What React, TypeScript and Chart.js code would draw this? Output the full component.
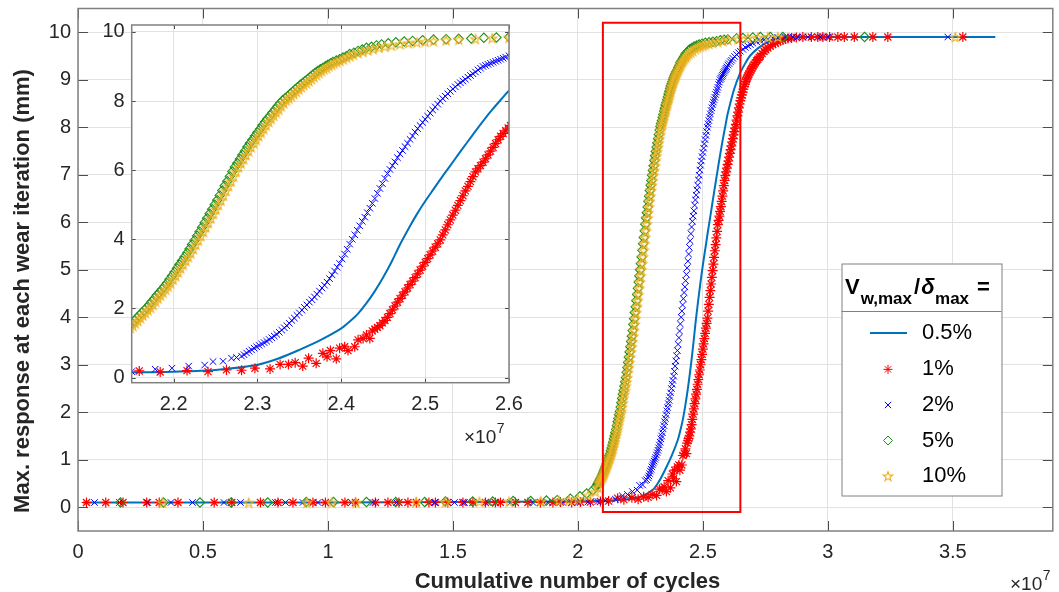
import React, { useEffect, useRef } from 'react';
import { Chart, registerables } from 'chart.js';

Chart.register(...registerables);

const FONT = "'Liberation Sans', Arial, Helvetica, sans-serif";
const TEXT = '#262626';
const AXIS = '#808080';
const TICKC = '#4d4d4d';
const GRID = '#e2e2e2';

const C_LINE = '#0072BD';
const C_RED = '#FF0000';
const C_BLUE = '#0000FF';
const C_GREEN = '#1E8F1E';
const C_YELLOW = '#EDB120';

// ---- axes (x in units of 1e7 cycles) ----
const MAIN_X_RANGE = [0, 3.9];
const MAIN_Y_RANGE = [-0.5, 10.5];
const MAIN_X_TICKS = [0, 0.5, 1, 1.5, 2, 2.5, 3, 3.5];
const MAIN_Y_TICKS = [0, 1, 2, 3, 4, 5, 6, 7, 8, 9, 10];
const INSET_X_RANGE = [2.15, 2.6];
const INSET_Y_RANGE = [-0.15, 10.2];
const INSET_X_TICKS = [2.2, 2.3, 2.4, 2.5, 2.6];
const INSET_Y_TICKS = [0, 2, 4, 6, 8, 10];
const ZOOM_BOX_X = [2.1, 2.65];
const ZOOM_BOX_Y = [-0.1, 10.2];

const X_TITLE = 'Cumulative number of cycles';
const Y_TITLE = 'Max. response at each wear iteration (mm)';
const LEGEND_LABELS = ['0.5%', '1%', '2%', '5%', '10%'];

// ---- series: [cumulative cycles (x1e7), max response (mm)] ----
const S_05: [number, number][] = [
  [0.02, 0.1], [0.5, 0.1], [1.0, 0.1], [1.5, 0.11], [1.9, 0.12], [2.05, 0.13], [2.15, 0.15],
  [2.2, 0.17], [2.25, 0.22], [2.3, 0.37], [2.325, 0.55], [2.35, 0.8], [2.375, 1.08], [2.4, 1.42],
  [2.41, 1.62], [2.42, 1.85], [2.43, 2.15], [2.44, 2.5], [2.45, 2.9], [2.46, 3.35], [2.47, 3.85],
  [2.48, 4.3], [2.49, 4.72], [2.5, 5.1], [2.51, 5.45], [2.52, 5.8], [2.53, 6.13], [2.54, 6.47],
  [2.55, 6.8], [2.56, 7.13], [2.57, 7.45], [2.58, 7.75], [2.59, 8.03], [2.6, 8.3], [2.625, 8.8],
  [2.649, 9.14], [2.67, 9.35], [2.688, 9.5], [2.72, 9.66], [2.755, 9.78], [2.79, 9.85], [2.83, 9.88],
  [2.88, 9.9], [3.67, 9.9],
];

const S_1: [number, number][] = [
  [0.034, 0.1], [0.111, 0.1], [0.18, 0.1], [0.275, 0.1], [0.325, 0.1], [0.40, 0.1], [0.545, 0.1],
  [0.615, 0.1], [0.73, 0.1], [0.80, 0.1], [0.86, 0.1], [0.94, 0.1], [0.99, 0.1], [1.068, 0.1],
  [1.11, 0.1], [1.19, 0.1], [1.24, 0.1], [1.284, 0.1], [1.32, 0.1], [1.354, 0.1], [1.404, 0.1],
  [1.43, 0.1], [1.479, 0.1], [1.54, 0.1], [1.58, 0.1], [1.63, 0.1], [1.67, 0.1], [1.69, 0.1],
  [1.75, 0.1], [1.80, 0.1], [1.85, 0.1], [1.90, 0.1], [1.93, 0.11], [1.975, 0.1], [2.01, 0.11],
  [2.05, 0.11], [2.09, 0.12], [2.123, 0.13], [2.159, 0.19], [2.184, 0.16], [2.216, 0.2],
  [2.241, 0.17], [2.263, 0.22], [2.281, 0.21], [2.297, 0.27], [2.315, 0.25], [2.327, 0.38],
  [2.337, 0.38], [2.345, 0.43], [2.354, 0.33], [2.361, 0.56], [2.370, 0.41], [2.378, 0.7],
  [2.383, 0.6], [2.387, 0.78], [2.394, 0.54], [2.398, 0.85], [2.404, 0.89], [2.408, 0.78],
  [2.416, 0.89], [2.420, 1.09], [2.426, 1.13], [2.430, 1.23], [2.434, 1.13], [2.437, 1.35],
  [2.440, 1.40], [2.443, 1.45], [2.446, 1.50], [2.449, 1.58], [2.452, 1.65], [2.455, 1.74],
  [2.458, 1.85], [2.461, 1.96], [2.464, 2.07], [2.467, 2.18], [2.470, 2.28], [2.473, 2.38],
  [2.476, 2.48], [2.479, 2.59], [2.482, 2.69], [2.485, 2.79], [2.488, 2.89], [2.491, 3.00],
  [2.494, 3.11], [2.497, 3.22], [2.500, 3.33], [2.503, 3.44], [2.506, 3.55], [2.509, 3.66],
  [2.512, 3.77], [2.515, 3.87], [2.518, 3.98], [2.521, 4.13], [2.524, 4.27], [2.527, 4.42],
  [2.530, 4.56], [2.533, 4.70], [2.536, 4.84], [2.539, 4.98], [2.542, 5.12], [2.545, 5.26],
  [2.548, 5.40], [2.551, 5.53], [2.554, 5.67], [2.557, 5.81], [2.560, 5.95], [2.563, 6.04],
  [2.566, 6.13], [2.569, 6.23], [2.572, 6.33], [2.575, 6.44], [2.578, 6.55], [2.581, 6.66],
  [2.584, 6.77], [2.587, 6.88], [2.590, 6.98], [2.593, 7.06], [2.596, 7.14], [2.599, 7.22],
  [2.602, 7.29], [2.605, 7.37], [2.608, 7.45], [2.611, 7.53], [2.614, 7.61], [2.617, 7.69],
  [2.620, 7.76], [2.623, 7.84], [2.626, 7.91], [2.629, 7.98], [2.632, 8.06], [2.635, 8.15],
  [2.638, 8.24], [2.641, 8.32], [2.644, 8.41], [2.647, 8.49], [2.650, 8.56], [2.653, 8.62],
  [2.656, 8.68], [2.659, 8.74], [2.662, 8.80], [2.665, 8.86], [2.668, 8.91], [2.671, 8.96],
  [2.674, 9.00], [2.677, 9.04], [2.680, 9.08], [2.684, 9.12], [2.688, 9.16], [2.692, 9.20],
  [2.696, 9.24], [2.700, 9.28], [2.705, 9.32], [2.710, 9.36], [2.715, 9.40], [2.720, 9.43],
  [2.725, 9.47], [2.730, 9.50], [2.737, 9.55], [2.745, 9.60], [2.752, 9.63], [2.760, 9.67],
  [2.770, 9.71], [2.780, 9.74], [2.790, 9.77], [2.800, 9.80], [2.810, 9.82], [2.820, 9.84],
  [2.830, 9.86], [2.840, 9.87], [2.855, 9.88], [2.874, 9.89], [2.900, 9.9], [2.934, 9.9],
  [2.960, 9.9], [2.980, 9.9], [3.007, 9.9], [3.040, 9.9], [3.066, 9.9], [3.106, 9.9],
  [3.180, 9.9], [3.240, 9.9], [3.540, 9.9],
];

const S_2: [number, number][] = [
  [0.066, 0.1], [0.166, 0.1], [0.279, 0.1], [0.372, 0.1], [0.458, 0.1], [0.584, 0.1], [0.65, 0.1],
  [0.79, 0.1], [0.83, 0.1], [0.90, 0.1], [0.96, 0.1], [1.095, 0.1], [1.18, 0.1], [1.274, 0.1],
  [1.426, 0.1], [1.506, 0.1], [1.546, 0.1], [1.64, 0.1], [1.73, 0.1], [1.82, 0.1], [1.88, 0.1],
  [1.94, 0.1], [2.0, 0.1], [2.04, 0.11], [2.08, 0.12], [2.11, 0.14], [2.15, 0.17], [2.178, 0.24],
  [2.198, 0.27], [2.218, 0.33], [2.237, 0.36], [2.247, 0.46], [2.259, 0.47], [2.269, 0.56],
  [2.275, 0.58], [2.281, 0.62], [2.284, 0.66], [2.287, 0.71], [2.290, 0.76], [2.293, 0.80],
  [2.296, 0.85], [2.299, 0.89], [2.302, 0.93], [2.305, 0.97], [2.308, 1.01], [2.311, 1.05],
  [2.314, 1.10], [2.317, 1.15], [2.320, 1.20], [2.323, 1.25], [2.326, 1.31], [2.329, 1.37],
  [2.332, 1.44], [2.335, 1.50], [2.338, 1.57], [2.341, 1.65], [2.344, 1.72], [2.347, 1.80],
  [2.350, 1.87], [2.353, 1.95], [2.356, 2.03], [2.359, 2.10], [2.362, 2.18], [2.365, 2.25],
  [2.368, 2.33], [2.371, 2.41], [2.374, 2.50], [2.377, 2.59], [2.380, 2.67], [2.383, 2.76],
  [2.386, 2.86], [2.389, 2.97], [2.392, 3.08], [2.395, 3.19], [2.398, 3.30], [2.401, 3.43],
  [2.404, 3.57], [2.407, 3.71], [2.410, 3.86], [2.413, 4.00], [2.416, 4.13], [2.419, 4.26],
  [2.422, 4.39], [2.425, 4.52], [2.428, 4.64], [2.431, 4.77], [2.434, 4.90], [2.437, 5.04],
  [2.440, 5.18], [2.443, 5.33], [2.446, 5.47], [2.449, 5.61], [2.452, 5.76], [2.455, 5.90],
  [2.458, 6.02], [2.461, 6.13], [2.464, 6.24], [2.467, 6.36], [2.470, 6.47], [2.473, 6.57],
  [2.476, 6.68], [2.479, 6.78], [2.482, 6.89], [2.485, 6.99], [2.488, 7.10], [2.491, 7.20],
  [2.494, 7.29], [2.497, 7.38], [2.500, 7.47], [2.503, 7.56], [2.506, 7.65], [2.509, 7.74],
  [2.512, 7.83], [2.515, 7.91], [2.518, 8.00], [2.521, 8.07], [2.524, 8.14], [2.527, 8.21],
  [2.530, 8.28], [2.533, 8.35], [2.536, 8.41], [2.539, 8.48], [2.542, 8.53], [2.545, 8.58],
  [2.548, 8.63], [2.551, 8.69], [2.554, 8.74], [2.557, 8.79], [2.560, 8.84], [2.563, 8.90],
  [2.566, 8.95], [2.569, 9.00], [2.572, 9.03], [2.575, 9.06], [2.578, 9.09], [2.581, 9.12],
  [2.584, 9.15], [2.587, 9.18], [2.590, 9.21], [2.593, 9.24], [2.596, 9.27], [2.600, 9.31],
  [2.605, 9.34], [2.610, 9.38], [2.615, 9.41], [2.620, 9.45], [2.627, 9.49], [2.635, 9.53],
  [2.643, 9.57], [2.650, 9.60], [2.660, 9.64], [2.670, 9.68], [2.680, 9.71], [2.690, 9.74],
  [2.700, 9.77], [2.715, 9.80], [2.730, 9.82], [2.745, 9.84], [2.760, 9.86], [2.780, 9.88],
  [2.800, 9.89], [2.830, 9.9], [2.860, 9.9], [2.880, 9.9], [2.920, 9.9], [2.970, 9.9],
  [3.000, 9.9], [3.480, 9.9],
];

const S_5: [number, number][] = [
  [0.17, 0.1], [0.342, 0.1], [0.488, 0.1], [0.613, 0.1], [0.759, 0.1], [0.913, 0.11], [1.022, 0.11],
  [1.154, 0.11], [1.271, 0.11], [1.387, 0.11], [1.47, 0.12], [1.579, 0.12], [1.659, 0.12],
  [1.741, 0.13], [1.811, 0.13], [1.874, 0.14], [1.917, 0.15], [1.97, 0.18], [2.008, 0.23],
  [2.035, 0.29], [2.06, 0.36], [2.072, 0.43], [2.078, 0.48],
  [2.081, 0.51], [2.084, 0.54], [2.087, 0.57], [2.090, 0.60], [2.093, 0.63], [2.096, 0.66],
  [2.099, 0.70], [2.102, 0.74], [2.105, 0.78], [2.108, 0.82], [2.111, 0.86], [2.114, 0.91],
  [2.117, 0.95], [2.120, 1.00], [2.123, 1.04], [2.126, 1.09], [2.129, 1.13], [2.132, 1.19],
  [2.135, 1.25], [2.138, 1.31], [2.141, 1.37], [2.144, 1.44], [2.147, 1.50], [2.150, 1.57],
  [2.153, 1.64], [2.156, 1.72], [2.159, 1.80], [2.162, 1.87], [2.165, 1.95], [2.168, 2.02],
  [2.171, 2.11], [2.174, 2.20], [2.177, 2.29], [2.180, 2.38], [2.183, 2.46], [2.186, 2.55],
  [2.189, 2.64], [2.192, 2.73], [2.195, 2.84], [2.198, 2.94], [2.201, 3.05], [2.204, 3.16],
  [2.207, 3.27], [2.210, 3.38], [2.213, 3.49], [2.216, 3.60], [2.219, 3.72], [2.222, 3.85],
  [2.225, 3.97], [2.228, 4.10], [2.231, 4.22], [2.234, 4.35], [2.237, 4.48], [2.240, 4.61],
  [2.243, 4.74], [2.246, 4.87], [2.249, 5.00], [2.252, 5.13], [2.255, 5.27], [2.258, 5.41],
  [2.261, 5.55], [2.264, 5.68], [2.267, 5.82], [2.270, 5.96], [2.273, 6.09], [2.276, 6.20],
  [2.279, 6.32], [2.282, 6.44], [2.285, 6.55], [2.288, 6.67], [2.291, 6.78], [2.294, 6.88],
  [2.297, 6.99], [2.300, 7.09], [2.303, 7.19], [2.306, 7.30], [2.309, 7.40], [2.312, 7.49],
  [2.315, 7.58], [2.318, 7.67], [2.321, 7.76], [2.324, 7.85], [2.327, 7.94], [2.330, 8.02],
  [2.333, 8.08], [2.336, 8.14], [2.339, 8.21], [2.342, 8.27], [2.345, 8.34], [2.348, 8.40],
  [2.351, 8.47], [2.354, 8.52], [2.357, 8.58], [2.360, 8.64], [2.363, 8.70], [2.366, 8.76],
  [2.369, 8.82], [2.372, 8.87], [2.375, 8.92], [2.378, 8.96], [2.381, 9.01], [2.384, 9.05],
  [2.387, 9.09], [2.390, 9.13], [2.394, 9.17], [2.398, 9.21], [2.402, 9.26], [2.406, 9.30],
  [2.410, 9.36], [2.415, 9.40], [2.420, 9.45], [2.425, 9.49], [2.430, 9.54], [2.436, 9.57],
  [2.442, 9.61], [2.448, 9.64], [2.456, 9.67], [2.465, 9.70], [2.475, 9.72], [2.485, 9.74],
  [2.497, 9.76], [2.510, 9.78], [2.525, 9.79], [2.540, 9.80], [2.555, 9.81], [2.570, 9.83],
  [2.585, 9.84], [2.600, 9.85], [2.635, 9.87], [2.660, 9.88], [2.700, 9.89], [2.730, 9.9],
  [2.770, 9.9], [2.820, 9.9], [3.147, 9.9],
];

const S_10: [number, number][] = [
  [0.338, 0.1], [0.683, 0.1], [0.916, 0.1], [1.015, 0.1], [1.112, 0.1], [1.353, 0.11], [1.47, 0.11],
  [1.606, 0.12], [1.725, 0.12], [1.851, 0.13], [1.924, 0.14], [1.964, 0.15], [2.0, 0.18],
  [2.04, 0.25], [2.07, 0.33], [2.08, 0.42],
  [2.0855, 0.51], [2.0885, 0.54], [2.0915, 0.57], [2.0945, 0.60], [2.0975, 0.63], [2.1005, 0.66],
  [2.1035, 0.70], [2.1065, 0.74], [2.1095, 0.78], [2.1125, 0.82], [2.1155, 0.86], [2.1185, 0.91],
  [2.1215, 0.95], [2.1245, 1.00], [2.1275, 1.04], [2.1305, 1.09], [2.1335, 1.13], [2.1365, 1.19],
  [2.1395, 1.25], [2.1425, 1.31], [2.1455, 1.37], [2.1485, 1.44], [2.1515, 1.50], [2.1545, 1.57],
  [2.1575, 1.64], [2.1605, 1.72], [2.1635, 1.80], [2.1665, 1.87], [2.1695, 1.95], [2.1725, 2.02],
  [2.1755, 2.11], [2.1785, 2.20], [2.1815, 2.29], [2.1845, 2.38], [2.1875, 2.46], [2.1905, 2.55],
  [2.1935, 2.64], [2.1965, 2.73], [2.1995, 2.84], [2.2025, 2.94], [2.2055, 3.05], [2.2085, 3.16],
  [2.2115, 3.27], [2.2145, 3.38], [2.2175, 3.49], [2.2205, 3.60], [2.2235, 3.72], [2.2265, 3.85],
  [2.2295, 3.97], [2.2325, 4.10], [2.2355, 4.22], [2.2385, 4.35], [2.2415, 4.48], [2.2445, 4.61],
  [2.2475, 4.74], [2.2505, 4.87], [2.2535, 5.00], [2.2565, 5.13], [2.2595, 5.27], [2.2625, 5.41],
  [2.2655, 5.55], [2.2685, 5.68], [2.2715, 5.82], [2.2745, 5.96], [2.2775, 6.09], [2.2805, 6.20],
  [2.2835, 6.32], [2.2865, 6.44], [2.2895, 6.55], [2.2925, 6.67], [2.2955, 6.78], [2.2985, 6.88],
  [2.3015, 6.99], [2.3045, 7.09], [2.3075, 7.19], [2.3105, 7.30], [2.3135, 7.40], [2.3165, 7.49],
  [2.3195, 7.58], [2.3225, 7.67], [2.3255, 7.76], [2.3285, 7.85], [2.3315, 7.94], [2.3345, 8.02],
  [2.3375, 8.08], [2.3405, 8.14], [2.3435, 8.21], [2.3465, 8.27], [2.3495, 8.34], [2.3525, 8.40],
  [2.3555, 8.47], [2.3585, 8.52], [2.3615, 8.58], [2.3645, 8.64], [2.3675, 8.70], [2.3705, 8.76],
  [2.3735, 8.82], [2.3765, 8.87], [2.3795, 8.92], [2.3825, 8.96], [2.3855, 9.01], [2.3885, 9.05],
  [2.3915, 9.09], [2.3945, 9.13], [2.3985, 9.17], [2.4025, 9.21], [2.4065, 9.26], [2.4105, 9.30],
  [2.4145, 9.35], [2.420, 9.39], [2.426, 9.43], [2.432, 9.47], [2.438, 9.51], [2.445, 9.55],
  [2.452, 9.58], [2.460, 9.61], [2.470, 9.65], [2.480, 9.68], [2.490, 9.70], [2.500, 9.72],
  [2.510, 9.74], [2.525, 9.76], [2.540, 9.78], [2.560, 9.80], [2.580, 9.82], [2.600, 9.84],
  [2.640, 9.86], [2.680, 9.88], [2.720, 9.89], [2.760, 9.9], [2.800, 9.9], [3.510, 9.9],
];

// ---- layout (pixels) ----
const W = 1059;
const H = 592;
const INSET_W = 530;
const INSET_H = 460;
const LEG = { left: 841.5, top: 263.5, width: 160, height: 232, divider: 311.5, markX: 888, lineX0: 870, lineX1: 907, textX: 922, rows: [333, 369.4, 405, 440.5, 476] };

const toPts = (a: [number, number][]) => a.map(([x, y]) => ({ x, y }));

function makePentagram(color: string, r: number) {
  const c = document.createElement('canvas');
  const s = Math.ceil(r * 2 + 4);
  c.width = s;
  c.height = s;
  const ctx = c.getContext('2d')!;
  ctx.strokeStyle = color;
  ctx.lineWidth = 1.1;
  ctx.beginPath();
  for (let i = 0; i < 10; i++) {
    const ang = -Math.PI / 2 + (i * Math.PI) / 5;
    const rr = i % 2 === 0 ? r : r * 0.4;
    const x = s / 2 + rr * Math.cos(ang);
    const y = s / 2 + 0.6 + rr * Math.sin(ang);
    if (i === 0) ctx.moveTo(x, y);
    else ctx.lineTo(x, y);
  }
  ctx.closePath();
  ctx.stroke();
  return c;
}

function datasets(pent: HTMLCanvasElement) {
  const none = 'rgba(0,0,0,0)';
  return [
    { label: LEGEND_LABELS[0], data: toPts(S_05), showLine: true, borderColor: C_LINE, borderWidth: 2, pointRadius: 0, tension: 0.3, order: 5 },
    { label: LEGEND_LABELS[1], data: toPts(S_1), pointStyle: 'star', pointRadius: 5, pointBorderColor: C_RED, pointBackgroundColor: none, pointBorderWidth: 1.2, order: 4 },
    { label: LEGEND_LABELS[2], data: toPts(S_2), pointStyle: 'crossRot', pointRadius: 4.6, pointBorderColor: C_BLUE, pointBackgroundColor: none, pointBorderWidth: 1, order: 3 },
    { label: LEGEND_LABELS[3], data: toPts(S_5), pointStyle: 'rectRot', pointRadius: 4.7, pointBorderColor: C_GREEN, pointBackgroundColor: none, pointBorderWidth: 1.1, order: 2 },
    { label: LEGEND_LABELS[4], data: toPts(S_10), pointStyle: pent, pointRadius: 5, pointBorderColor: C_YELLOW, pointBackgroundColor: none, pointBorderWidth: 1, order: 1 },
  ];
}

function axis(range: number[], ticks: number[], size: number, pad: number, horizontal: boolean) {
  return {
    type: 'linear',
    min: range[0],
    max: range[1],
    afterBuildTicks: (s: any) => {
      s.ticks = ticks.map((v) => ({ value: v }));
    },
    afterFit: (s: any) => {
      if (horizontal) s.height = size;
      else s.width = size;
      s.paddingTop = 0;
      s.paddingBottom = 0;
      s.paddingLeft = 0;
      s.paddingRight = 0;
    },
    grid: { color: GRID, lineWidth: 1, drawTicks: false },
    border: { display: false },
    ticks: {
      color: TEXT,
      font: { family: FONT, size: 20 },
      padding: pad,
      maxRotation: 0,
      minRotation: 0,
      autoSkip: false,
      callback: (v: any) => String(v),
    },
  };
}

function drawBox(chart: any, len: number) {
  const { ctx, chartArea } = chart;
  const { left, right, top, bottom } = chartArea;
  const xs = chart.scales.x;
  const ys = chart.scales.y;
  ctx.save();
  ctx.strokeStyle = TICKC;
  ctx.lineWidth = 1;
  ctx.beginPath();
  for (const t of xs.ticks) {
    const p = Math.round(xs.getPixelForValue(t.value)) + 0.5;
    ctx.moveTo(p, bottom);
    ctx.lineTo(p, bottom - len);
    ctx.moveTo(p, top);
    ctx.lineTo(p, top + len);
  }
  for (const t of ys.ticks) {
    const p = Math.round(ys.getPixelForValue(t.value)) + 0.5;
    ctx.moveTo(left, p);
    ctx.lineTo(left + len, p);
    ctx.moveTo(right, p);
    ctx.lineTo(right - len, p);
  }
  ctx.stroke();
  ctx.strokeStyle = AXIS;
  ctx.lineWidth = 1.5;
  ctx.strokeRect(left, top, right - left, bottom - top);
  ctx.restore();
}

function drawExponent(ctx: CanvasRenderingContext2D, x: number, yMid: number) {
  ctx.save();
  ctx.fillStyle = TEXT;
  ctx.textAlign = 'left';
  ctx.textBaseline = 'middle';
  ctx.font = `19px ${FONT}`;
  ctx.fillText('\u00d710', x, yMid);
  const w = ctx.measureText('\u00d710').width;
  ctx.font = `14px ${FONT}`;
  ctx.fillText('7', x + w + 0.5, yMid - 9);
  ctx.restore();
}

function drawMarker(ctx: CanvasRenderingContext2D, kind: number, x: number, y: number, pent: HTMLCanvasElement) {
  ctx.save();
  ctx.lineWidth = 1;
  ctx.beginPath();
  if (kind === 0) {
    ctx.strokeStyle = C_LINE;
    ctx.lineWidth = 2;
    ctx.moveTo(LEG.lineX0, y);
    ctx.lineTo(LEG.lineX1, y);
    ctx.stroke();
  } else if (kind === 1) {
    const r = 4.5;
    ctx.strokeStyle = C_RED;
    for (let i = 0; i < 4; i++) {
      const a = (i * Math.PI) / 4;
      ctx.moveTo(x - r * Math.cos(a), y - r * Math.sin(a));
      ctx.lineTo(x + r * Math.cos(a), y + r * Math.sin(a));
    }
    ctx.stroke();
  } else if (kind === 2) {
    const d = 4.5 * Math.SQRT1_2;
    ctx.strokeStyle = C_BLUE;
    ctx.moveTo(x - d, y - d);
    ctx.lineTo(x + d, y + d);
    ctx.moveTo(x - d, y + d);
    ctx.lineTo(x + d, y - d);
    ctx.stroke();
  } else if (kind === 3) {
    const r = 4.5;
    ctx.strokeStyle = C_GREEN;
    ctx.moveTo(x - r, y);
    ctx.lineTo(x, y - r);
    ctx.lineTo(x + r, y);
    ctx.lineTo(x, y + r);
    ctx.closePath();
    ctx.stroke();
  } else {
    ctx.drawImage(pent, x - pent.width / 2, y - pent.height / 2);
  }
  ctx.restore();
}

function drawLegend(ctx: CanvasRenderingContext2D, pent: HTMLCanvasElement) {
  ctx.save();
  ctx.fillStyle = '#ffffff';
  ctx.fillRect(LEG.left, LEG.top, LEG.width, LEG.height);
  ctx.strokeStyle = AXIS;
  ctx.lineWidth = 1;
  ctx.strokeRect(LEG.left + 0.5, LEG.top + 0.5, LEG.width, LEG.height);
  ctx.beginPath();
  ctx.moveTo(LEG.left, LEG.divider);
  ctx.lineTo(LEG.left + LEG.width, LEG.divider);
  ctx.stroke();

  // title: V_{w,max}/δ_{max} =
  ctx.fillStyle = '#000000';
  ctx.textAlign = 'left';
  ctx.textBaseline = 'alphabetic';
  let x = 845;
  const base = 293.5;
  const seg = (t: string, font: string, dy: number, gap: number) => {
    ctx.font = font;
    ctx.fillText(t, x, base + dy);
    x += ctx.measureText(t).width + gap;
  };
  seg('V', `bold 22px ${FONT}`, 0, 1);
  seg('w,max', `bold 17px ${FONT}`, 10, 2);
  seg('/', `bold 22px ${FONT}`, 0, 1);
  seg('\u03b4', `italic bold 22px ${FONT}`, 0, 0.5);
  seg('max', `bold 17px ${FONT}`, 10, 8);
  seg('=', `bold 22px ${FONT}`, 0, 0);

  ctx.font = `22px ${FONT}`;
  ctx.textBaseline = 'middle';
  LEGEND_LABELS.forEach((lab, i) => {
    const y = LEG.rows[i];
    drawMarker(ctx, i, LEG.markX, y, pent);
    ctx.fillStyle = '#000000';
    ctx.fillText(lab, LEG.textX, y);
  });
  ctx.restore();
}

function drawTitles(ctx: CanvasRenderingContext2D) {
  ctx.save();
  ctx.fillStyle = TEXT;
  ctx.font = `bold 22px ${FONT}`;
  ctx.textAlign = 'center';
  ctx.textBaseline = 'alphabetic';
  ctx.fillText(X_TITLE, 567.5, 587.5);
  ctx.translate(28.7, 291);
  ctx.rotate(-Math.PI / 2);
  ctx.fillText(Y_TITLE, 0, 0);
  ctx.restore();
}

export default function App() {
  const mainRef = useRef<HTMLCanvasElement>(null);
  const insetRef = useRef<HTMLCanvasElement>(null);

  useEffect(() => {
    document.body.style.margin = '0';
    const pent = makePentagram(C_YELLOW, 5);

    const mainDecor = {
      id: 'mainDecor',
      afterDatasetsDraw(chart: any) {
        drawBox(chart, 10);
        const ctx = chart.ctx as CanvasRenderingContext2D;
        const xs = chart.scales.x;
        const ys = chart.scales.y;
        const x1 = xs.getPixelForValue(ZOOM_BOX_X[0]);
        const x2 = xs.getPixelForValue(ZOOM_BOX_X[1]);
        const y1 = ys.getPixelForValue(ZOOM_BOX_Y[1]);
        const y2 = ys.getPixelForValue(ZOOM_BOX_Y[0]);
        ctx.save();
        ctx.strokeStyle = C_RED;
        ctx.lineWidth = 2;
        ctx.strokeRect(x1, y1, x2 - x1, y2 - y1);
        ctx.restore();
        drawLegend(ctx, pent);
        drawTitles(ctx);
        drawExponent(ctx, 1010, 585);
      },
    };

    const insetDecor = {
      id: 'insetDecor',
      beforeDraw(chart: any) {
        const { ctx, chartArea: a } = chart;
        ctx.save();
        ctx.fillStyle = '#ffffff';
        ctx.fillRect(a.left, a.top, a.right - a.left, a.bottom - a.top);
        ctx.restore();
      },
      afterDatasetsDraw(chart: any) {
        drawBox(chart, 4);
        drawExponent(chart.ctx, 464, 438);
      },
    };

    const common = {
      animation: false,
      responsive: false,
      devicePixelRatio: 1,
      events: [],
      plugins: { legend: { display: false }, tooltip: { enabled: false } },
    };

    const main = new Chart(mainRef.current!, {
      type: 'scatter',
      data: { datasets: datasets(pent) as any },
      options: {
        ...common,
        layout: { padding: { top: 8.5, right: 2, left: 0, bottom: 0 } },
        scales: {
          x: axis(MAIN_X_RANGE, MAIN_X_TICKS, H - 531, 9.5, true),
          y: axis(MAIN_Y_RANGE, MAIN_Y_TICKS, 78, 7, false),
        },
      } as any,
      plugins: [mainDecor],
    });

    const inset = new Chart(insetRef.current!, {
      type: 'scatter',
      data: { datasets: datasets(pent) as any },
      options: {
        ...common,
        layout: { padding: { top: 25, right: INSET_W - 509, left: 0, bottom: 0 } },
        scales: {
          x: axis(INSET_X_RANGE, INSET_X_TICKS, INSET_H - 382.7, 9.5, true),
          y: axis(INSET_Y_RANGE, INSET_Y_TICKS, 131.7, 7, false),
        },
      } as any,
      plugins: [insetDecor],
    });

    return () => {
      main.destroy();
      inset.destroy();
    };
  }, []);

  return (
    <div style={{ position: 'fixed', left: 0, top: 0, width: W, height: H, background: '#ffffff' }}>
      <canvas ref={mainRef} width={W} height={H} style={{ position: 'absolute', left: 0, top: 0 }} />
      <canvas ref={insetRef} width={INSET_W} height={INSET_H} style={{ position: 'absolute', left: 0, top: 0 }} />
    </div>
  );
}
